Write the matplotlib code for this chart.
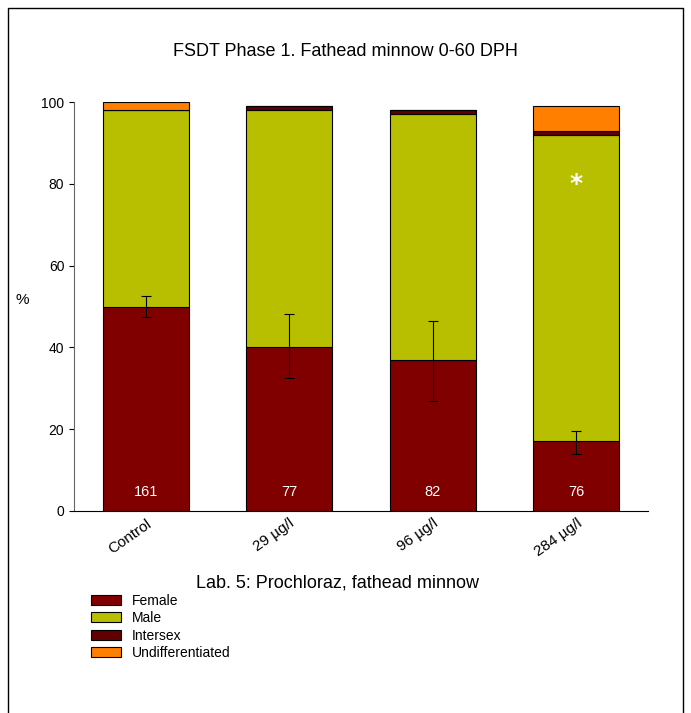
import matplotlib
matplotlib.use("Agg")
import matplotlib.pyplot as plt
import numpy as np

categories = ["Control", "29 µg/l", "96 µg/l", "284 µg/l"]
female = [50, 40, 37, 17]
male = [48, 58, 60, 75]
intersex = [0, 1, 1, 1]
undiff = [2, 0, 0, 6]
female_err_lo = [2.5, 7.5, 10, 3]
female_err_hi = [2.5, 8.2, 9.5, 2.5]
counts = ["161", "77", "82", "76"]

W, H = 691, 713
fig = plt.figure(figsize=(W/100, H/100), dpi=100)
ax = fig.add_axes([74/W, 1-511/H, (648-74)/W, (511-102)/H])
x = np.arange(len(categories))
w = 0.6
kw = dict(width=w, edgecolor="black", linewidth=0.8)
ax.bar(x, female, color="#800000", label="Female", **kw)
b1 = np.array(female)
ax.bar(x, male, bottom=b1, color="#b8bf00", label="Male", **kw)
b2 = b1 + np.array(male)
ax.bar(x, intersex, bottom=b2, color="#600000", label="Intersex", **kw)
b3 = b2 + np.array(intersex)
ax.bar(x, undiff, bottom=b3, color="#ff8000", label="Undifferentiated", **kw)
ax.errorbar(x, female, yerr=[female_err_lo, female_err_hi], fmt="none", ecolor="black",
            elinewidth=0.8, capsize=3.5, capthick=0.8)
for xi, c in zip(x, counts):
    ax.text(xi, 3, c, color="white", ha="center", va="bottom", fontsize=10.5, family="Liberation Sans")
ax.text(3, 80, "*", color="white", ha="center", va="center", fontsize=18, fontweight="bold")

ax.set_xlim(-0.5, 3.5)
ax.set_ylim(0, 100)
ax.set_yticks([0, 20, 40, 60, 80, 100])
ax.set_xticks(x)
ax.set_xticklabels(categories, rotation=35, ha="right", rotation_mode="anchor", fontsize=11,
                   family="Liberation Sans")
for t in ax.get_yticklabels():
    t.set_family("Liberation Sans"); t.set_fontsize(10)
ax.tick_params(axis="x", length=0, pad=4)
ax.spines["top"].set_visible(False)
ax.spines["right"].set_visible(False)
ax.spines["left"].set_color("#666666")
ax.set_ylabel("%", rotation=0, fontsize=11, family="Liberation Sans", labelpad=10)
ax.yaxis.set_label_coords(-0.09, 0.5)

fig.text(0.5*(8+683)/W, 1-52/H, "FSDT Phase 1. Fathead minnow 0-60 DPH", ha="center", va="center",
         fontsize=13, family="Liberation Sans")
fig.text(338/W, 1-583/H, "Lab. 5: Prochloraz, fathead minnow", ha="center", va="center",
         fontsize=13, family="Liberation Sans")
handles, labels = ax.get_legend_handles_labels()
fig.legend(handles, labels, loc="upper left", bbox_to_anchor=(85/W, 1-588/H), frameon=False,
           prop={"family": "Liberation Sans", "size": 10}, handlelength=2.2, handleheight=0.7,
           labelspacing=0.25, borderaxespad=0)
fig.add_artist(plt.Line2D([8/W, 8/W, 683/W, 683/W], [0, 1-8/H, 1-8/H, 0], color="black",
                          linewidth=1, transform=fig.transFigure))
fig.savefig("out.png", dpi=100)
